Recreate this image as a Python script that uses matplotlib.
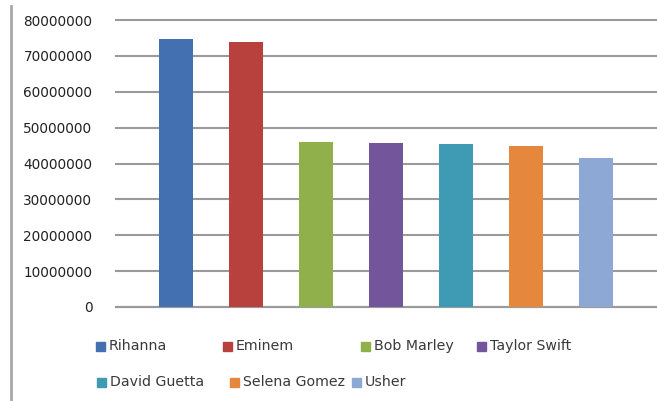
import matplotlib.pyplot as plt
from matplotlib.patches import Rectangle
from matplotlib.lines import Line2D

# most followed artists
artists = ['Rihanna', 'Eminem', 'Bob Marley', 'Taylor Swift',
           'David Guetta', 'Selena Gomez', 'Usher']
fans = [74600000, 74000000, 46000000, 45800000, 45400000, 44800000, 41500000]
colors = ['#4270B0', '#B8413E', '#8FB04A', '#72559A',
          '#3F9BB3', '#E5883E', '#8EA8D5']
yticks = [0, 10000000, 20000000, 30000000, 40000000,
          50000000, 60000000, 70000000, 80000000]

W, H = 657, 401
fig = plt.figure(figsize=(W / 100, H / 100), dpi=100)

# plot area in pixels: left 116, top 20, right edge 657, bottom 307
ax = fig.add_axes([116 / W, 1 - 307 / H, (W - 116) / W, (307 - 20) / H])

x = range(len(artists))
bars = ax.bar(x, fans, width=0.49, color=colors, zorder=3)

ax.set_xlim(-0.857, 6.87)
ax.set_ylim(0, 80000000)
ax.set_yticks(yticks)
ax.set_yticklabels([str(t) for t in yticks], fontsize=9.8, color='#222222')
ax.set_xticks([])
ax.tick_params(axis='y', length=0, pad=17)

ax.grid(axis='y', color='#9A9A9A', linewidth=1.5, zorder=0)
for gl in ax.get_ygridlines():
    gl.set_clip_on(False)
for s in ['top', 'right', 'left']:
    ax.spines[s].set_visible(False)
ax.spines['bottom'].set_color('#9A9A9A')
ax.spines['bottom'].set_linewidth(1.5)

# frame line on the left
fig.add_artist(Line2D([10.5 / W, 10.5 / W], [0, 1 - 6 / H],
                      transform=fig.transFigure, color='#A8A8A8', linewidth=2))

# legend laid out in two rows
legend_pos = [(96, 346), (223, 346), (361, 346), (477, 346),
              (97, 382), (230, 382), (352, 382)]
for bar, name, (px, py) in zip(bars, artists, legend_pos):
    fig.add_artist(Rectangle((px / W, 1 - (py + 4.5) / H), 9 / W, 9 / H,
                             transform=fig.transFigure,
                             color=bar.get_facecolor()))
    fig.text((px + 13) / W, 1 - py / H, name, fontsize=10.2,
             color='#3A3A3A', va='center', ha='left')

fig.savefig('out.png', dpi=100)
